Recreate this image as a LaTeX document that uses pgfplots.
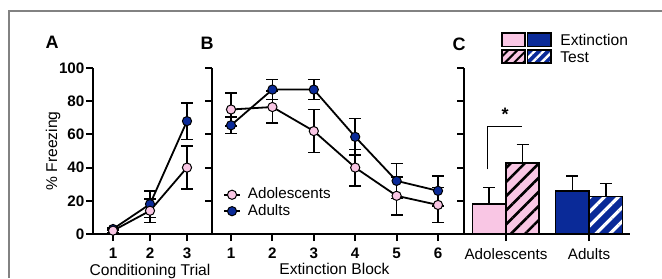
\documentclass[border=0pt]{standalone}
\usepackage{fontspec}
\setmainfont{Liberation Sans}
\usepackage{pgfplots}
\pgfplotsset{compat=1.18}
\usetikzlibrary{patterns.meta}
\definecolor{pinkc}{RGB}{249,198,228}
\definecolor{bluec}{RGB}{10,42,152}
\definecolor{framec}{RGB}{130,130,130}

\pgfplotsset{
  panel/.style={
    scale only axis,
    anchor=south west,
    ymin=0, ymax=100,
    axis x line*=bottom, axis y line*=left,
    axis line style={line width=1pt, -},
    every tick/.style={black, line width=1pt},
    tick align=outside,
    major tick length=3.5pt,
    ytick={0,20,40,60,80,100},
    /pgf/number format/assume math mode=true,
    tick label style={font=\fontsize{7.6}{9}\selectfont\bfseries},
    yticklabel style={inner sep=0.6pt},
    clip=false,
    error bars/error bar style={line width=0.8pt, black},
    error bars/error mark options={rotate=90, mark size=3pt, line width=0.8pt, black},
  },
  adol/.style={black, line width=0.9pt, mark=*, mark size=2.3pt,
    mark options={fill=pinkc, draw=black, line width=0.5pt},
    error bars/.cd, y dir=both, y explicit},
  adul/.style={black, line width=0.9pt, mark=*, mark size=2.3pt,
    mark options={fill=bluec, draw=black, line width=0.5pt},
    error bars/.cd, y dir=both, y explicit},
}

\begin{document}
\begin{tikzpicture}[font=\fontsize{7.8}{9.5}\selectfont]
\useasboundingbox (0,0) rectangle (331pt,-139pt);
\draw[framec, line width=0.6pt] (4.5pt,-139pt) -- (4.5pt,-5.5pt) -- (331pt,-5.5pt);

% Panel A
\begin{axis}[panel,
  at={(46.5pt,-117pt)}, width=59.5pt, height=83pt,
  xmin=0.459, xmax=3.676,
  xtick={1,2,3},
  xlabel={Conditioning Trial},
  xlabel style={at={(axis cs:2,0)}, anchor=center, yshift=-18.5pt},
  ylabel={\% Freezing},
  ylabel style={at={(axis description cs:-0.336,0.5)}, anchor=center},
]
\addplot[adul] table[x=x, y=y, y error=e] {
x y e
1 3 1
2 18 8
3 68 11
};
\addplot[adol] table[x=x, y=y, y error=e] {
x y e
1 2 1
2 14 7
3 40 13
};
\end{axis}
\node[font=\fontsize{9}{10}\selectfont\bfseries] at (26pt,-21pt) {A};

% Panel B
\begin{axis}[panel,
  at={(106pt,-117pt)}, width=126pt, height=83pt,
  xmin=0.541, xmax=6.628,
  xtick={1,2,3,4,5,6},
  yticklabels={},
  xlabel={Extinction Block},
  xlabel style={at={(axis cs:3.5,0)}, anchor=center, yshift=-17.5pt},
  reverse legend,
  legend style={at={(axis cs:0.8,30.5)}, anchor=north west, draw=none, fill=none,
    font=\fontsize{7.6}{9}\selectfont, row sep=-2.8pt, inner sep=0pt,
    nodes={inner xsep=3.5pt}},
  legend cell align=left,
  legend image code/.code={\draw[mark repeat=2, mark phase=2] plot coordinates {(0pt,0pt) (4pt,0pt) (8pt,0pt)};},
]
\addplot[adul] table[x=x, y=y, y error=e] {
x y e
1 65.5 5
2 87 6
3 87 6
4 58.5 11
5 32 10.5
6 26 9
};
\addlegendentry{Adults}
\addplot[adol] table[x=x, y=y, y error=e] {
x y e
1 75 10
2 76.5 9.5
3 62 13
4 40 11
5 23 11.5
6 17.5 10.5
};
\addlegendentry{Adolescents}
\end{axis}
\node[font=\fontsize{9}{10}\selectfont\bfseries] at (103.5pt,-21.5pt) {B};

% Panel C
\begin{axis}[panel,
  at={(232pt,-117pt)}, width=83pt, height=83pt,
  xmin=0.494, xmax=2.494,
  xtick={1,2}, xticklabels={Adolescents, Adults},
  x tick label style={font=\fontsize{7.6}{9}\selectfont},
  major x tick style={line width=0.75pt},
  yticklabels={},
  ybar, bar width=16.75pt,
]
\addplot[ybar, bar shift=0pt, fill=pinkc, draw=black, line width=0.8pt,
  error bars/.cd, y dir=plus, y explicit] coordinates {(0.797,18) +- (0,10)};
\addplot[ybar, bar shift=0pt, fill=pinkc, draw=black, line width=1pt,
  postaction={pattern={Lines[angle=45,distance=5pt,line width=1.3pt]}, pattern color=black},
  error bars/.cd, y dir=plus, y explicit] coordinates {(1.201,43) +- (0,11)};
\addplot[ybar, bar shift=0pt, fill=bluec, draw=black, line width=0.8pt,
  error bars/.cd, y dir=plus, y explicit] coordinates {(1.799,26) +- (0,9)};
\addplot[ybar, bar shift=0pt, fill=bluec, draw=black, line width=0.8pt,
  postaction={pattern={Lines[angle=45,distance=5pt,line width=1.6pt]}, pattern color=white},
  error bars/.cd, y dir=plus, y explicit] coordinates {(2.203,22.5) +- (0,8)};
% significance bracket
\draw[black, line width=0.5pt] (axis cs:0.783,39) -- (axis cs:0.783,65) -- (axis cs:1.193,65);
\node[font=\fontsize{9}{10}\selectfont\bfseries] at (axis cs:0.99,72) {*};
% legend
\draw[black, line width=0.8pt, fill=pinkc] (axis cs:0.954,121) rectangle (axis cs:1.231,113);
\draw[black, line width=0.8pt, fill=bluec] (axis cs:1.26,121) rectangle (axis cs:1.545,113);
\draw[black, line width=0.8pt, fill=pinkc, postaction={pattern={Lines[angle=45,distance=3.2pt,line width=1pt]}, pattern color=black}] (axis cs:0.954,111) rectangle (axis cs:1.231,103);
\draw[black, line width=0.8pt, fill=bluec, postaction={pattern={Lines[angle=45,distance=3.2pt,line width=1.2pt]}, pattern color=white}] (axis cs:1.26,111) rectangle (axis cs:1.545,103);
\draw[black, line width=0.8pt] (axis cs:1.26,111) rectangle (axis cs:1.545,103);
\draw[black, line width=0.8pt] (axis cs:0.954,111) rectangle (axis cs:1.231,103);
\node[anchor=west, font=\fontsize{7.8}{9}\selectfont, inner sep=0pt] at (axis cs:1.65,117) {Extinction};
\node[anchor=west, font=\fontsize{7.8}{9}\selectfont, inner sep=0pt] at (axis cs:1.65,106.5) {Test};
\end{axis}
\node[font=\fontsize{9}{10}\selectfont\bfseries] at (229.5pt,-22pt) {C};
\end{tikzpicture}
\end{document}
